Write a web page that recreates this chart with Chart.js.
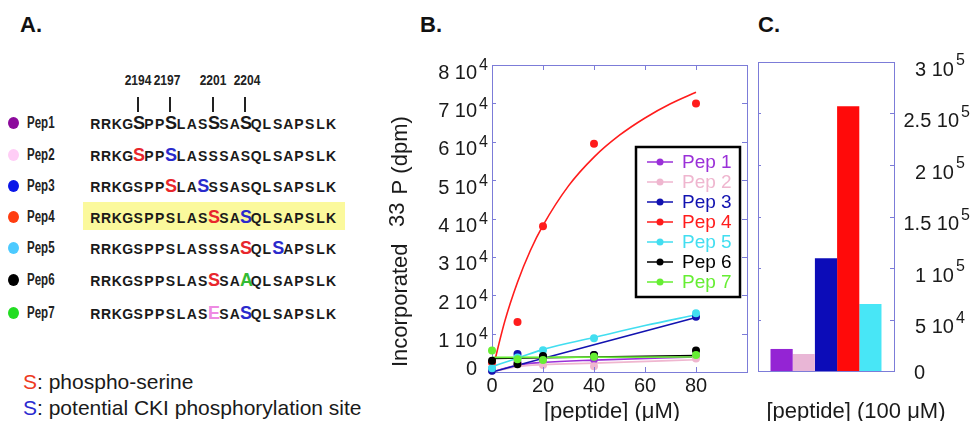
<!DOCTYPE html>
<html><head><meta charset="utf-8">
<script src="https://cdn.jsdelivr.net/npm/chart.js"></script>
<style>
html,body{margin:0;padding:0;background:#fff;}
#root{position:relative;width:971px;height:421px;overflow:hidden;font-family:"Liberation Sans",Arial,sans-serif;color:#111;}
.plabel{position:absolute;top:14px;font-weight:bold;font-size:22px;line-height:22px;color:#111;}
.row{position:absolute;left:90px;height:20px;line-height:20px;white-space:nowrap;font-weight:bold;font-size:14px;color:#1a1a1a;}
.row span{display:inline-block;width:10.72px;text-align:center;}
.row span.mk{font-size:18px;}
.pname{position:absolute;left:27px;height:20px;line-height:20px;font-weight:bold;font-size:16px;color:#222;transform:scaleX(0.72);transform-origin:0 50%;white-space:nowrap;}
.dot{position:absolute;left:8px;width:11px;height:12px;border-radius:50%;}
.vline{position:absolute;top:97px;height:15px;width:1.5px;background:#222;}
.snum{position:absolute;top:71px;height:18px;line-height:18px;width:40px;text-align:center;font-size:15px;font-weight:bold;color:#222;transform:scaleX(0.8);transform-origin:50% 50%;}
#hl{position:absolute;left:83px;top:202px;width:262px;height:28px;background:#fbf99c;}
#keys{position:absolute;left:23px;top:369px;font-size:21px;line-height:26px;color:#1a1a1a;}
canvas{position:absolute;}
</style>
</head><body><div id="root">
<div class="plabel" style="left:20px">A.</div>
<div class="plabel" style="left:420px">B.</div>
<div class="plabel" style="left:758px">C.</div>
<div id="hl"></div>
<div id="panelA"></div>
<div id="keys"><span style="color:#ee3a1e">S</span>: phospho-serine<br><span style="color:#2a2ad0">S</span>: potential CKI phosphorylation site</div>
<canvas id="cb" width="375" height="391" style="left:380px;top:30px"></canvas>
<canvas id="cc" width="231" height="391" style="left:740px;top:30px"></canvas>
</div>
<script>
// ---------- Panel A data ----------
const pepNames = ['Pep1','Pep2','Pep3','Pep4','Pep5','Pep6','Pep7'];
const pepDotColors = ['#8c0a9c','#ffcdf6','#0a16e8','#ff3d10','#4ccaff','#000000','#22dd22'];
const pepSeqs = ['RRKGSPPSLASSSASQLSAPSLK','RRKGSPPSLASSSASQLSAPSLK','RRKGSPPSLASSSASQLSAPSLK',
  'RRKGSPPSLASSSASQLSAPSLK','RRKGSPPSLASSSASQLSAPSLK','RRKGSPPSLASSSAAQLSAPSLK','RRKGSPPSLASESASQLSAPSLK'];
const pepMarks = [[[5,'k'],[8,'k'],[12,'k'],[15,'k']],[[5,'r'],[8,'b']],[[8,'r'],[11,'b']],
  [[12,'r'],[15,'b']],[[15,'r'],[18,'b']],[[12,'r'],[15,'g']],[[12,'m'],[15,'b']]];
const pepRowY = [123,155,186,217,248,280,313];
const siteNumbers = ['2194','2197','2201','2204'];
const sitePositions = [5,8,12,15];
const markColors = {k:'#1a1a1a', r:'#e8262c', b:'#2a2acc', g:'#33bb33', m:'#ee8ae2'};
const seqLeft = 90, seqPitch = 10.72;

const pa = document.getElementById('panelA');
pepNames.forEach((n,i)=>{
  const y = pepRowY[i];
  const d = document.createElement('div'); d.className='dot'; d.style.top=(y-6)+'px'; d.style.background=pepDotColors[i];
  pa.appendChild(d);
  const p = document.createElement('div'); p.className='pname'; p.style.top=(y-10)+'px'; p.textContent=n; pa.appendChild(p);
  const r = document.createElement('div'); r.className='row'; r.style.top=(y-10)+'px';
  const marks = {}; pepMarks[i].forEach(m=>marks[m[0]]=m[1]);
  [...pepSeqs[i]].forEach((ch,j)=>{
    const s=document.createElement('span'); s.textContent=ch;
    if(marks[j+1]){ s.className='mk'; s.style.color=markColors[marks[j+1]]; }
    r.appendChild(s);
  });
  pa.appendChild(r);
});
sitePositions.forEach((pos,i)=>{
  const cx = seqLeft + (pos-0.5)*seqPitch;
  const l=document.createElement('div'); l.className='vline'; l.style.left=(Math.round(cx)-1)+'px'; pa.appendChild(l);
  const t=document.createElement('div'); t.className='snum'; t.style.left=(cx-20+ (i===1?-3:0) + (i===3?2:0))+'px'; t.textContent=siteNumbers[i]; pa.appendChild(t);
});

// ---------- Panel B data ----------
const seriesNames = ['Pep 1','Pep 2','Pep 3','Pep 4','Pep 5','Pep 6','Pep 7'];
const seriesColors = ['#9a30d8','#efb6cf','#1212b0','#ff1c1c','#42def0','#000000','#66ee33'];
const xConc = [0, 10, 20, 40, 80];
const pep1Y = [800, 2500, 2900, 3300, 4100];
const pep2Y = [300, 2000, 1800, 1500, 3500];
const pep3Y = [300, 4700, 4000, 4400, 14400];
const pep4Y = [2500, 13000, 38000, 59500, 70000];
const pep5Y = [1000, 3800, 5700, 8800, 15300];
const pep6Y = [2900, 2000, 4200, 4400, 5600];
const pep7Y = [5600, 3300, 3100, 4000, 4400];
const fit1X = [0, 10, 20, 40, 80];   const fit1Y = [0, 1800, 2500, 3100, 3900];
const fit2X = [0, 10, 20, 40, 80];   const fit2Y = [0, 1400, 1900, 2300, 3200];
const fit3X = [0, 80];               const fit3Y = [0, 14200];
const fit4X = [0, 5, 10, 15, 20, 30, 40, 50, 60, 70, 80];
const fit4Y = [0, 13200, 23400, 31600, 38200, 48500, 56000, 61700, 66200, 69900, 72900];
const fit5X = [0, 10, 20, 40, 60, 80]; const fit5Y = [1400, 3600, 5900, 9000, 12100, 14900];
const fit6X = [0, 80];               const fit6Y = [3500, 4300];
const fit7X = [0, 80];               const fit7Y = [3800, 3900];
const bYTickMant = ['0','1 10','2 10','3 10','4 10','5 10','6 10','7 10','8 10'];
const bYTickExp  = ['','4','4','4','4','4','4','4','4'];
const bXTickLabels = ['0','20','40','60','80'];

// ---------- Panel C data ----------
const cCategories = ['Pep 1','Pep 2','Pep 3','Pep 4','Pep 5'];
const cValues = [21400, 16500, 109500, 257000, 65100];
const cColors = ['#9424d4','#e9b6d6','#0c0cb8','#ff0a0a','#48e6f6'];
const cYTickMant = ['0','5 10','1 10','1.5 10','2 10','2.5 10','3 10'];
const cYTickExp  = ['','4','5','5','5','5','5'];

const frameColor = '#7c7cd8';
const FONT = '"Liberation Sans", Arial, sans-serif';
const mantFont = '20px ' + FONT, expFont = '16px ' + FONT;

const ptsY = [pep1Y,pep2Y,pep3Y,pep4Y,pep5Y,pep6Y,pep7Y];
const fitXs = [fit1X,fit2X,fit3X,fit4X,fit5X,fit6X,fit7X];
const fitYs = [fit1Y,fit2Y,fit3Y,fit4Y,fit5Y,fit6Y,fit7Y];

const bDatasets = [];
seriesNames.forEach((n,i)=>{
  bDatasets.push({type:'scatter', label:n, data:xConc.map((x,j)=>({x, y:ptsY[i][j]})), showLine:false,
    pointRadius:4, pointHoverRadius:4, backgroundColor:seriesColors[i], borderWidth:0, clip:false, order:7-i});
});
seriesNames.forEach((n,i)=>{
  bDatasets.push({type:'line', label:n+' fit', data:fitXs[i].map((x,j)=>({x, y:fitYs[i][j]})),
    borderColor:seriesColors[i], borderWidth:1.6, pointRadius:0, fill:false, cubicInterpolationMode:'monotone', order:20-i});
});

function frameAxis(pos, type, min, max, step){
  return {type, position:pos, min, max, display:true,
    ticks:{display:false, stepSize:step}, grid:{display:false, drawTicks:false},
    border:{display:true, color:frameColor, width:1}};
}

const bPlugin = {id:'bdeco', afterDraw(chart){
  const ctx=chart.ctx, ca=chart.chartArea, sx=chart.scales.x, sy=chart.scales.y;
  ctx.save();
  ctx.strokeStyle=frameColor; ctx.lineWidth=1; ctx.beginPath();
  sx.ticks.forEach(t=>{ if(t.value<=sx.min||t.value>=sx.max) return;
    const p=Math.round(sx.getPixelForValue(t.value))+0.5;
    ctx.moveTo(p,ca.bottom); ctx.lineTo(p,ca.bottom-5); ctx.moveTo(p,ca.top); ctx.lineTo(p,ca.top+5); });
  sy.ticks.forEach(t=>{ if(t.value<=sy.min||t.value>=sy.max) return;
    const p=Math.round(sy.getPixelForValue(t.value))+0.5;
    ctx.moveTo(ca.left,p); ctx.lineTo(ca.left+4,p); ctx.moveTo(ca.right,p); ctx.lineTo(ca.right-5,p); });
  ctx.stroke();
  ctx.fillStyle='#1a1a1a'; ctx.textBaseline='middle';
  sy.ticks.forEach((t,i)=>{
    const y=sy.getPixelForValue(t.value); const m=bYTickMant[i], e=bYTickExp[i];
    if(m===undefined) return;
    ctx.textAlign='right';
    if(!e){ ctx.font=mantFont; ctx.fillText(m, ca.left-15, y-3); return; }
    ctx.font=expFont; ctx.fillText(e, ca.left-4, y+1); const ew=ctx.measureText(e).width;
    ctx.font=mantFont; ctx.fillText(m, ca.left-4-ew-2, y+8);
  });
  ctx.textAlign='center'; ctx.font=mantFont;
  sx.ticks.forEach((t,i)=>{ const l=bXTickLabels[i]; if(l===undefined) return;
    ctx.fillText(l, sx.getPixelForValue(t.value), 356); });
  ctx.font='22px '+FONT; ctx.textBaseline='alphabetic';
  ctx.fillText('[peptide] (\u03bcM)', 232, 388);
  ctx.save(); ctx.translate(27, 337); ctx.rotate(-Math.PI/2); ctx.textAlign='left';
  ctx.fillText('Incorporated', 0, 0);
  ctx.fillText('33', 140, -3);
  const w33=ctx.measureText('33').width;
  ctx.fillText(' P (dpm)', 140+w33+2, 0);
  ctx.restore();
  ctx.fillStyle='#fff'; ctx.fillRect(256,117,104,150);
  ctx.strokeStyle='#000'; ctx.lineWidth=2.5; ctx.strokeRect(256,117,104,150);
  ctx.font='19px '+FONT; ctx.textAlign='left'; ctx.textBaseline='middle';
  seriesNames.forEach((n,i)=>{
    const y=132+20*i;
    ctx.strokeStyle=seriesColors[i]; ctx.lineWidth=1.5; ctx.beginPath(); ctx.moveTo(267,y); ctx.lineTo(293,y); ctx.stroke();
    ctx.fillStyle=seriesColors[i]; ctx.beginPath(); ctx.arc(280,y,3.5,0,Math.PI*2); ctx.fill();
    ctx.fillText(n, 302, y+1);
  });
  ctx.restore();
}};

new Chart(document.getElementById('cb'), {
  type:'scatter',
  data:{datasets:bDatasets},
  options:{responsive:false, animation:false, devicePixelRatio:1,
    layout:{padding:{left:112, top:35, right:8, bottom:49}},
    plugins:{legend:{display:false}, tooltip:{enabled:false}},
    scales:{ x:frameAxis('bottom','linear',0,100,20), x2:frameAxis('top','linear',0,100,20),
             y:frameAxis('left','linear',0,80000,10000), y2:frameAxis('right','linear',0,80000,10000) }
  },
  plugins:[bPlugin]
});

const cPlugin = {id:'cdeco', afterDraw(chart){
  const ctx=chart.ctx, ca=chart.chartArea, sy=chart.scales.y;
  ctx.save();
  ctx.strokeStyle=frameColor; ctx.lineWidth=1; ctx.beginPath();
  sy.ticks.forEach(t=>{ if(t.value<=sy.min||t.value>=sy.max) return;
    const p=Math.round(sy.getPixelForValue(t.value))+0.5;
    ctx.moveTo(ca.left,p); ctx.lineTo(ca.left+3,p); ctx.moveTo(ca.right,p); ctx.lineTo(ca.right-4,p); });
  ctx.stroke();
  ctx.fillStyle='#1a1a1a'; ctx.textBaseline='middle'; ctx.textAlign='left';
  sy.ticks.forEach((t,i)=>{
    const y=sy.getPixelForValue(t.value); const m=cYTickMant[i], e=cYTickExp[i];
    if(m===undefined) return;
    if(!e){ ctx.font=mantFont; ctx.fillText(m, 174, y+2); return; }
    ctx.font=mantFont; const mw=ctx.measureText(m).width;
    ctx.font=expFont; const ew=ctx.measureText(e).width;
    const x0=Math.min(175, 230-(mw+2+ew));
    ctx.font=mantFont; ctx.fillText(m, x0, y+8);
    ctx.font=expFont; ctx.fillText(e, x0+mw+2, y-1);
  });
  ctx.font='22px '+FONT; ctx.textAlign='center'; ctx.textBaseline='alphabetic';
  ctx.fillText('[peptide] (100 \u03bcM)', 116, 388);
  ctx.restore();
}};

new Chart(document.getElementById('cc'), {
  type:'bar',
  data:{labels:['100 \u03bcM'], datasets:cCategories.map((n,i)=>({label:n, data:[cValues[i]], backgroundColor:cColors[i],
    borderWidth:0, categoryPercentage:0.816, barPercentage:1}))},
  options:{responsive:false, animation:false, devicePixelRatio:1,
    layout:{padding:{left:18, top:32, right:77, bottom:50}},
    plugins:{legend:{display:false}, tooltip:{enabled:false}},
    scales:{ x:{type:'category', position:'bottom', display:true, ticks:{display:false}, grid:{display:false, drawTicks:false},
               border:{display:true, color:frameColor, width:1}},
             x2:frameAxis('top','linear',0,1,1),
             y:frameAxis('right','linear',0,300000,50000), y2:frameAxis('left','linear',0,300000,50000) }
  },
  plugins:[cPlugin]
});
</script>
</body></html>
